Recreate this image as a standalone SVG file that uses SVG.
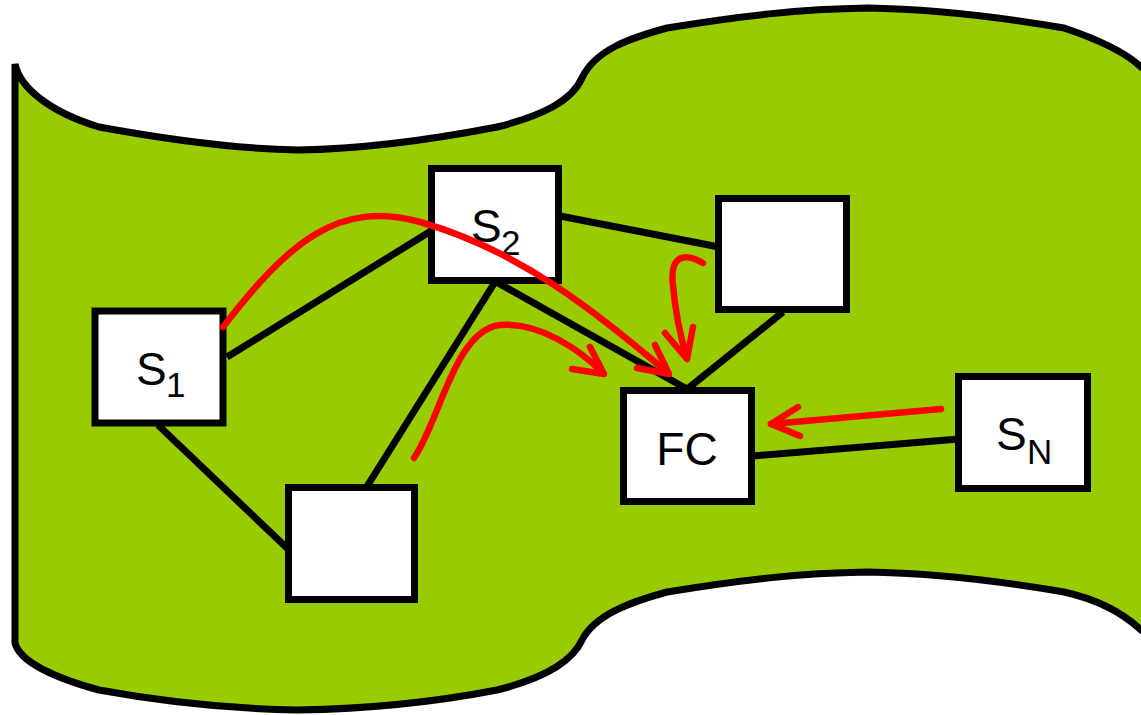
<svg xmlns="http://www.w3.org/2000/svg" width="1141" height="715" viewBox="0 0 1141 715">
<style>
.box{fill:#fff;stroke:#000;stroke-width:7}
.edge{stroke:#000;stroke-width:7;fill:none}
.flow{stroke:#f00;stroke-width:6.5;fill:none;stroke-linecap:round;stroke-linejoin:round}
.lbl{font-family:"Liberation Sans",Arial,sans-serif;font-size:46px;fill:#000}
.sub{font-size:35px}
</style>
<rect width="1141" height="715" fill="#fff"/>
<path id="banner" d="M15,64 C20,88 50,112 99,127 C170,140 240,149 298,150 C360,149 430,140 497,127 C545,115 572,100 582,78 C595,50 630,38 667,28 C740,16 800,9 867,8 C930,9 1000,17 1064,28 C1100,40 1125,52 1141,67 L1160,80 L1160,640 L1141,630 C1125,615 1100,600 1064,592 C1000,581 930,573 867,572 C800,573 740,580 667,592 C630,602 595,615 582,640 C572,662 545,678 497,690 C430,703 360,709 298,710 C240,709 170,703 99,690 C55,678 20,662 15,643 Z" fill="#99cc00" stroke="#000" stroke-width="7"/>
<g id="connectors">
<line class="edge" x1="227" y1="357" x2="431" y2="231"/>
<line class="edge" x1="158" y1="425" x2="289" y2="550"/>
<line class="edge" x1="366" y1="488" x2="495" y2="282"/>
<line class="edge" x1="498" y1="283" x2="687" y2="389"/>
<line class="edge" x1="560" y1="216" x2="719" y2="247"/>
<line class="edge" x1="783" y1="312" x2="686" y2="390"/>
<line class="edge" x1="753" y1="456" x2="959" y2="439"/>
</g>
<g id="S1"><rect class="box" x="95" y="311" width="128" height="112"/><text class="lbl" x="136" y="385">S<tspan class="sub" x="166" y="397">1</tspan></text></g>
<g id="S2"><rect class="box" x="431.5" y="168.5" width="127" height="112"/><text class="lbl" x="471" y="242">S<tspan class="sub" x="501" y="255">2</tspan></text></g>
<g id="N3"><rect class="box" x="718.5" y="198.5" width="128" height="111"/></g>
<g id="FC"><rect class="box" x="623.5" y="390.5" width="128" height="111"/><text class="lbl" x="687" y="465" text-anchor="middle">FC</text></g>
<g id="N5"><rect class="box" x="288.5" y="487.5" width="126" height="112"/></g>
<g id="SN"><rect class="box" x="958.5" y="376.5" width="129" height="112"/><text class="lbl" x="996" y="450">S<tspan class="sub" x="1027" y="464">N</tspan></text></g>
<g id="flows">
<path class="flow" d="M223,327 C290,240 340,200 420,222 C520,250 600,315 668,373"/>
<path class="flow" d="M637,368 L669,374 L655,345"/>
<path class="flow" d="M414,458 C440,420 455,330 500,325 C540,322 580,350 603,373"/>
<path class="flow" d="M572,369 L604,374 L590,347"/>
<path class="flow" d="M703,263 C680,250 670,260 673,285 C675,310 680,335 687,358"/>
<path class="flow" d="M665,333 L687,359 L693,327"/>
<path class="flow" d="M941,409 L771,424"/>
<path class="flow" d="M798,407 L771,424 L800,436"/>
</g>
</svg>
